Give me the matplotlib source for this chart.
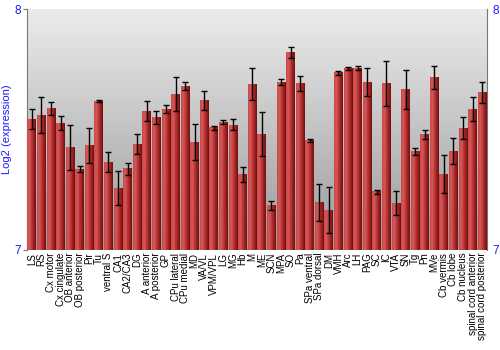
import numpy as np
import matplotlib
matplotlib.use("Agg")
import matplotlib.pyplot as plt
from matplotlib.colors import LinearSegmentedColormap

regions = ["LS", "RS", "Cx motor", "Cx cingulate", "OB anterior", "OB posterior",
           "Pir", "Tu", "ventral S", "CA1", "CA2/CA3", "DG", "A anterior",
           "A posterior", "GP", "CPu lateral", "CPu medial", "MD", "VA/VL",
           "VPM/VPL", "LG", "MG", "Hb", "M", "ME", "SCN", "MPA", "SO", "Pa",
           "SPa ventral", "SPa dorsal", "DM", "VMH", "Arc", "LH", "PAG", "SC",
           "IC", "VTA", "SN", "Tg", "Pn", "MVe", "Cb vermis", "Cb lobe",
           "Cb nucleus", "spinal cord anterior", "spinal cord posterior"]
expression = [7.544, 7.560, 7.588, 7.526, 7.425, 7.336, 7.432, 7.618, 7.365,
              7.257, 7.337, 7.440, 7.577, 7.550, 7.585, 7.647, 7.680, 7.448,
              7.622, 7.508, 7.531, 7.519, 7.314, 7.689, 7.480, 7.185, 7.697,
              7.820, 7.690, 7.456, 7.196, 7.166, 7.736, 7.754, 7.754, 7.697,
              7.241, 7.691, 7.195, 7.668, 7.409, 7.480, 7.716, 7.315, 7.411,
              7.506, 7.585, 7.654]
error = [0.040, 0.076, 0.026, 0.030, 0.093, 0.012, 0.073, 0.004, 0.040,
         0.070, 0.025, 0.040, 0.043, 0.026, 0.015, 0.069, 0.018, 0.075,
         0.039, 0.008, 0.010, 0.023, 0.032, 0.068, 0.091, 0.019, 0.014,
         0.024, 0.032, 0.006, 0.077, 0.095, 0.009, 0.006, 0.008, 0.059,
         0.008, 0.093, 0.050, 0.081, 0.016, 0.019, 0.046, 0.080, 0.055,
         0.045, 0.048, 0.042]
y_ticks = [7, 8]

blue = "#1a1aff"
fig = plt.figure(figsize=(5, 3.5), dpi=100)
ax = fig.add_axes([0.054, 0.286, 0.920, 0.688])

x = np.arange(len(regions))
bars = ax.bar(x, np.array(expression) - 7, bottom=7, width=0.92,
              color="#b83030", zorder=2)

# background gradient (light at top, darker at bottom)
bg = LinearSegmentedColormap.from_list("bg", ["#9a9a9a", "#ececec"])
ax.imshow(np.linspace(0, 1, 256).reshape(-1, 1), cmap=bg, aspect="auto",
          extent=[-0.5, len(regions) - 0.5, 7, 8], origin="lower", zorder=0)

# cylinder-like shading on each bar
shade = LinearSegmentedColormap.from_list(
    "shade", ["#c84848", "#d65a5a", "#c03a3a", "#9c2020", "#6e1010"])
grad = np.linspace(0, 1, 64).reshape(1, -1)
for b in bars:
    ax.imshow(grad, cmap=shade, aspect="auto", zorder=3,
              extent=[b.get_x(), b.get_x() + b.get_width(),
                      b.get_y(), b.get_y() + b.get_height()])

ax.errorbar(x, expression, yerr=error, fmt="none", ecolor="black",
            elinewidth=1, capsize=2, capthick=1, zorder=4)

ax.set_xlim(-0.5, len(regions) - 0.5)
ax.set_ylim(7, 8)
ax.set_yticks(y_ticks)
ax.set_yticklabels([str(t) for t in y_ticks], fontsize=8.5,
                   family="Liberation Sans")
ax.tick_params(axis="y", left=True, right=False, labelleft=True,
               labelright=True, color="#777777", length=3, pad=1,
               labelcolor=blue)
ax.set_ylabel("Log2 (expression)", color=blue, fontsize=8,
              family="Liberation Sans", labelpad=2)

ax.set_xticks(x)
ax.set_xticklabels(regions, rotation=90, fontsize=7, family="Liberation Sans")
ax.tick_params(axis="x", length=0, pad=2)

for side in ["top", "bottom"]:
    ax.spines[side].set_visible(False)
for side in ["left", "right"]:
    ax.spines[side].set_color("#777777")

fig.savefig("out.png", dpi=100)
